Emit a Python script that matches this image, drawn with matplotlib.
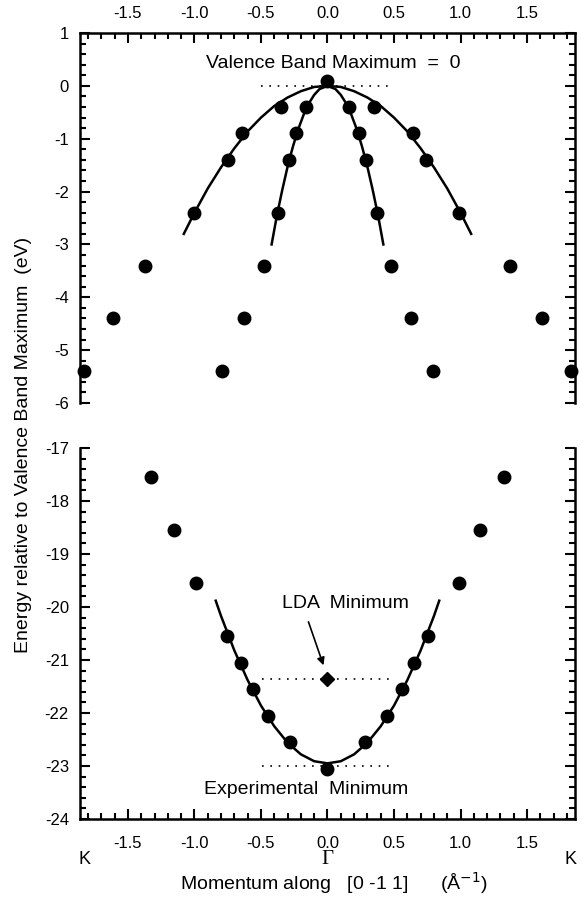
"""Band dispersion along [0 -1 1]: measured points and fitted bands."""
import matplotlib
matplotlib.use("Agg")
import matplotlib.pyplot as plt
from matplotlib.ticker import MultipleLocator, FixedLocator, FormatStrFormatter
import matplotlib.transforms as mtrans

plt.rcParams["font.family"] = ["Liberation Sans", "DejaVu Sans"]
plt.rcParams["axes.unicode_minus"] = False

# ── data: upper panel (valence bands near VBM) ───────────────────────────────
vbm_k = [0.0]
vbm_E = [0.1]
outer_pts_k = [-1.0, -0.75, -0.64, -0.35, 0.35, 0.64, 0.74, 0.99]
outer_pts_E = [-2.4, -1.4, -0.9, -0.4, -0.4, -0.9, -1.4, -2.4]
inner_pts_k = [-0.375, -0.29, -0.235, -0.16, 0.16, 0.235, 0.29, 0.375]
inner_pts_E = [-2.4, -1.4, -0.9, -0.4, -0.4, -0.9, -1.4, -2.4]
deep_pts_k = [-1.375, -0.475, 0.475, 1.375, -1.61, -0.625, 0.625, 1.61,
              -1.83, -0.795, 0.795, 1.83]
deep_pts_E = [-3.4, -3.4, -3.4, -3.4, -4.4, -4.4, -4.4, -4.4,
              -5.4, -5.4, -5.4, -5.4]

# fitted curves
outer_fit_k = [-1.08, -1.0, -0.9, -0.8, -0.7, -0.6, -0.5, -0.4, -0.3, -0.2, -0.1, 0.0,
               0.1, 0.2, 0.3, 0.4, 0.5, 0.6, 0.7, 0.8, 0.9, 1.0, 1.08]
outer_fit_E = [-2.80, -2.40, -1.94, -1.54, -1.18, -0.86, -0.60, -0.38, -0.22, -0.10, -0.02, 0.0,
               -0.02, -0.10, -0.22, -0.38, -0.60, -0.86, -1.18, -1.54, -1.94, -2.40, -2.80]
inner_fit_k = [-0.42, -0.38, -0.34, -0.30, -0.26, -0.22, -0.18, -0.14, -0.10, -0.06, 0.0,
               0.06, 0.10, 0.14, 0.18, 0.22, 0.26, 0.30, 0.34, 0.38, 0.42]
inner_fit_E = [-3.00, -2.45, -1.97, -1.53, -1.15, -0.82, -0.55, -0.33, -0.17, -0.06, 0.0,
               -0.06, -0.17, -0.33, -0.55, -0.82, -1.15, -1.53, -1.97, -2.45, -3.00]

# ── data: lower panel (bottom of valence band) ───────────────────────────────
low_pts_k = [-1.325, -1.15, -0.99, -0.755, -0.65, -0.56, -0.445, -0.285, 0.0,
             0.285, 0.445, 0.56, 0.65, 0.755, 0.99, 1.15, 1.325]
low_pts_E = [-17.55, -18.55, -19.55, -20.55, -21.05, -21.55, -22.05, -22.55, -23.05,
             -22.55, -22.05, -21.55, -21.05, -20.55, -19.55, -18.55, -17.55]
low_fit_k = [-0.84, -0.8, -0.7, -0.6, -0.5, -0.4, -0.3, -0.2, -0.1, 0.0,
             0.1, 0.2, 0.3, 0.4, 0.5, 0.6, 0.7, 0.8, 0.84]
low_fit_E = [-19.88, -20.17, -20.82, -21.38, -21.86, -22.25, -22.56, -22.78, -22.91, -22.95,
             -22.91, -22.78, -22.56, -22.25, -21.86, -21.38, -20.82, -20.17, -19.88]
lda_min = -21.35
exp_min = -23.0

xticks = [-1.5, -1.0, -0.5, 0.0, 0.5, 1.0, 1.5]
yticks_top = [1, 0, -1, -2, -3, -4, -5, -6]
yticks_bot = [-17, -18, -19, -20, -21, -22, -23, -24]
xlim = (-1.86, 1.86)

fig = plt.figure(figsize=(5.85, 8.98), dpi=100)
ax1 = fig.add_axes([0.1368, 0.5512, 0.846, 0.412])
ax2 = fig.add_axes([0.1368, 0.0880, 0.846, 0.413])

LW = 1.8
MS = 9
TICK_FS = 12
TXT_FS = 14

def style(ax, xside):
    ax.set_xlim(*xlim)
    for s in ax.spines.values():
        s.set_linewidth(LW)
    ax.spines["bottom" if xside == "top" else "top"].set_visible(False)
    ax.xaxis.set_ticks_position(xside)
    ax.xaxis.set_label_position(xside)
    ax.xaxis.set_major_locator(FixedLocator(xticks))
    ax.xaxis.set_major_formatter(FormatStrFormatter("%.1f"))
    ax.xaxis.set_minor_locator(MultipleLocator(0.1))
    ax.yaxis.set_minor_locator(MultipleLocator(0.2))
    ax.yaxis.set_ticks_position("both")
    ax.tick_params(which="both", direction="in", width=1.5, labelsize=TICK_FS)
    ax.tick_params(which="major", length=7)
    ax.tick_params(which="minor", length=4.3)
    ax.tick_params(axis="y", which="major", pad=8)
    ax.tick_params(axis="x", which="major", pad=9 if xside == "top" else 12)

style(ax1, "top")
style(ax2, "bottom")
ax1.set_ylim(-6, 1)
ax1.set_yticks(yticks_top)
ax2.set_ylim(-24, -17)
ax2.set_yticks(yticks_bot)

dot = dict(color="black", lw=1.2, ls=(0, (1, 4)))
mk = dict(ls="none", marker="o", ms=MS, color="black", clip_on=False, zorder=4)

# upper panel
ax1.plot([-0.5, 0.47], [0, 0], **dot)
ax1.plot(outer_fit_k, outer_fit_E, color="black", lw=LW, solid_joinstyle="round")
ax1.plot(inner_fit_k, inner_fit_E, color="black", lw=LW, solid_joinstyle="round")
ax1.plot(vbm_k, vbm_E, **mk)
ax1.plot(outer_pts_k, outer_pts_E, **mk)
ax1.plot(inner_pts_k, inner_pts_E, **mk)
ax1.plot(deep_pts_k, deep_pts_E, **mk)
ax1.text(0.04, 0.43, "Valence Band Maximum  =  0", fontsize=TXT_FS,
         ha="center", va="center")

# lower panel
ax2.plot([-0.49, 0.47], [lda_min, lda_min], **dot)
ax2.plot([-0.49, 0.47], [exp_min, exp_min], **dot)
ax2.plot(low_fit_k, low_fit_E, color="black", lw=LW, solid_joinstyle="round")
ax2.plot(low_pts_k, low_pts_E, **mk)
ax2.plot([0.0], [lda_min], ls="none", marker="D", ms=7.5, color="black", zorder=5)
ax2.text(0.135, -19.93, "LDA  Minimum", fontsize=TXT_FS, ha="center", va="center")
ax2.annotate("", xy=(-0.03, -21.1), xytext=(-0.143, -20.28),
             arrowprops=dict(arrowstyle="-|>", color="black", lw=1.2,
                             mutation_scale=11, shrinkA=0, shrinkB=0))
ax2.text(-0.16, -23.45, "Experimental  Minimum", fontsize=TXT_FS,
         ha="center", va="center")

# symmetry point labels
tr = mtrans.blended_transform_factory(ax2.transData, ax2.transAxes)
ax2.text(-1.83, -0.108, "K", transform=tr, fontsize=TICK_FS + 1, ha="center", va="center")
ax2.text(1.83, -0.108, "K", transform=tr, fontsize=TICK_FS + 1, ha="center", va="center")
ax2.text(0.0, -0.11, "Γ", transform=tr, fontsize=15, ha="center", va="center",
         family=["Liberation Serif", "DejaVu Serif"])

fig.text(0.5714, 0.017, "Momentum along   [0 -1 1]      (Å$^{-1}$)", fontsize=TXT_FS,
         ha="center", va="center")
fig.text(0.040, 0.505, "Energy relative to Valence Band Maximum  (eV)", fontsize=TXT_FS,
         rotation=90, ha="center", va="center")

fig.savefig("out.png", dpi=100, facecolor="white")
